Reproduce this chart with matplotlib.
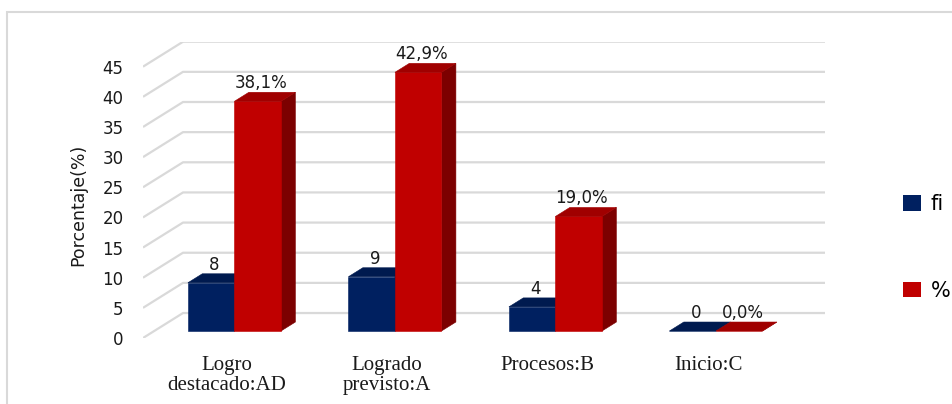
import matplotlib
matplotlib.use("Agg")
import matplotlib.pyplot as plt
from matplotlib.patches import Polygon, Rectangle, Patch

# datos
categorias = ["Logro\ndestacado:AD", "Logrado\nprevisto:A", "Procesos:B", "Inicio:C"]
fi = [8, 9, 4, 0]
porcentaje = [38.1, 42.9, 19.0, 0.0]
series = ["fi", "%"]
yticks = list(range(0, 50, 5))

# colores: frente, tapa, lado
azul = ("#002060", "#001a4f", "#00143c")
rojo = ("#c00000", "#a00000", "#7c0000")
gris = "#d9d9d9"

# profundidad del grafico 3D expresada en unidades de los ejes
KX = 40 / 160.5
KV = 25 / 6.036


def proy(x, v, d):
    return (x + d * KX, v + d * KV)


def barra(ax, x0, x1, v, d0, d1, colores):
    frente, tapa, lado = colores
    caras = [
        ([proy(x1, 0, d0), proy(x1, 0, d1), proy(x1, v, d1), proy(x1, v, d0)], lado),
        ([proy(x0, 0, d0), proy(x1, 0, d0), proy(x1, v, d0), proy(x0, v, d0)], frente),
        ([proy(x0, v, d0), proy(x1, v, d0), proy(x1, v, d1), proy(x0, v, d1)], tapa),
    ]
    for pts, c in caras:
        ax.add_patch(Polygon(pts, closed=True, facecolor=c, edgecolor=c, lw=0.4))


fig = plt.figure(figsize=(9.52, 4.04), dpi=100)
ax = fig.add_axes([143 / 952, 1 - 338 / 404, 682 / 952, (338 - 41.7) / 404])
ax.set_xlim(0, 4 + KX)
ax.set_ylim(0, 45 + KV)
for s in ax.spines.values():
    s.set_visible(False)

# lineas de division: pared lateral y pared del fondo
for v in yticks:
    a, b, c = proy(0, v, 0), proy(0, v, 1), proy(4, v, 1)
    ax.plot([a[0], b[0], c[0]], [a[1], b[1], c[1]], color=gris, lw=1.6,
            solid_capstyle="butt", zorder=0)

ancho = 0.29
d0, d1 = 0.28, 0.64
for i in range(len(categorias)):
    xc = i + 0.5
    barra(ax, xc - ancho, xc, fi[i], d0, d1, azul)
    barra(ax, xc, xc + ancho, porcentaje[i], d0, d1, rojo)
    # etiquetas de datos
    for xm, val, txt in [(xc - ancho / 2, fi[i], f"{fi[i]}"),
                         (xc + ancho / 2, porcentaje[i],
                          f"{porcentaje[i]:.1f}%".replace(".", ","))]:
        ax.annotate(txt, proy(xm, val, 0.36), xytext=(0, 8),
                    textcoords="offset points", ha="center", va="baseline",
                    fontsize=12, color="#1a1a1a", family="DejaVu Sans")

ax.set_yticks(yticks)
ax.set_yticklabels([str(t) for t in yticks], fontsize=12, family="DejaVu Sans")
ax.set_xticks([i + 0.5 + 0.02 for i in range(len(categorias))])
ax.set_xticklabels(categorias, fontsize=15, family="Liberation Serif",
                   linespacing=1.05)
ax.tick_params(axis="y", length=0, pad=14, colors="#1a1a1a")
ax.tick_params(axis="x", length=0, pad=13, colors="#1a1a1a")

fig.text(78 / 952, 1 - 205 / 404, "Porcentaje(%)", rotation=90, ha="center",
         va="center", fontsize=12.5, family="DejaVu Sans", color="#1a1a1a")

# leyenda
handles = [Patch(facecolor=azul[0]), Patch(facecolor=rojo[0])]
fig.legend(handles, series, loc="upper left",
           bbox_to_anchor=(903 / 952, 1 - 194 / 404), frameon=False,
           fontsize=15, handlelength=0.87, handleheight=0.77,
           handletextpad=0.45, labelspacing=3.2, borderpad=0, borderaxespad=0)

# borde del area del grafico
fig.add_artist(Rectangle((7 / 952, -0.2), 1.2, 1.2 - 12 / 404,
                         transform=fig.transFigure, fill=False,
                         edgecolor=gris, lw=1.5))

fig.savefig("out.png", dpi=100)
